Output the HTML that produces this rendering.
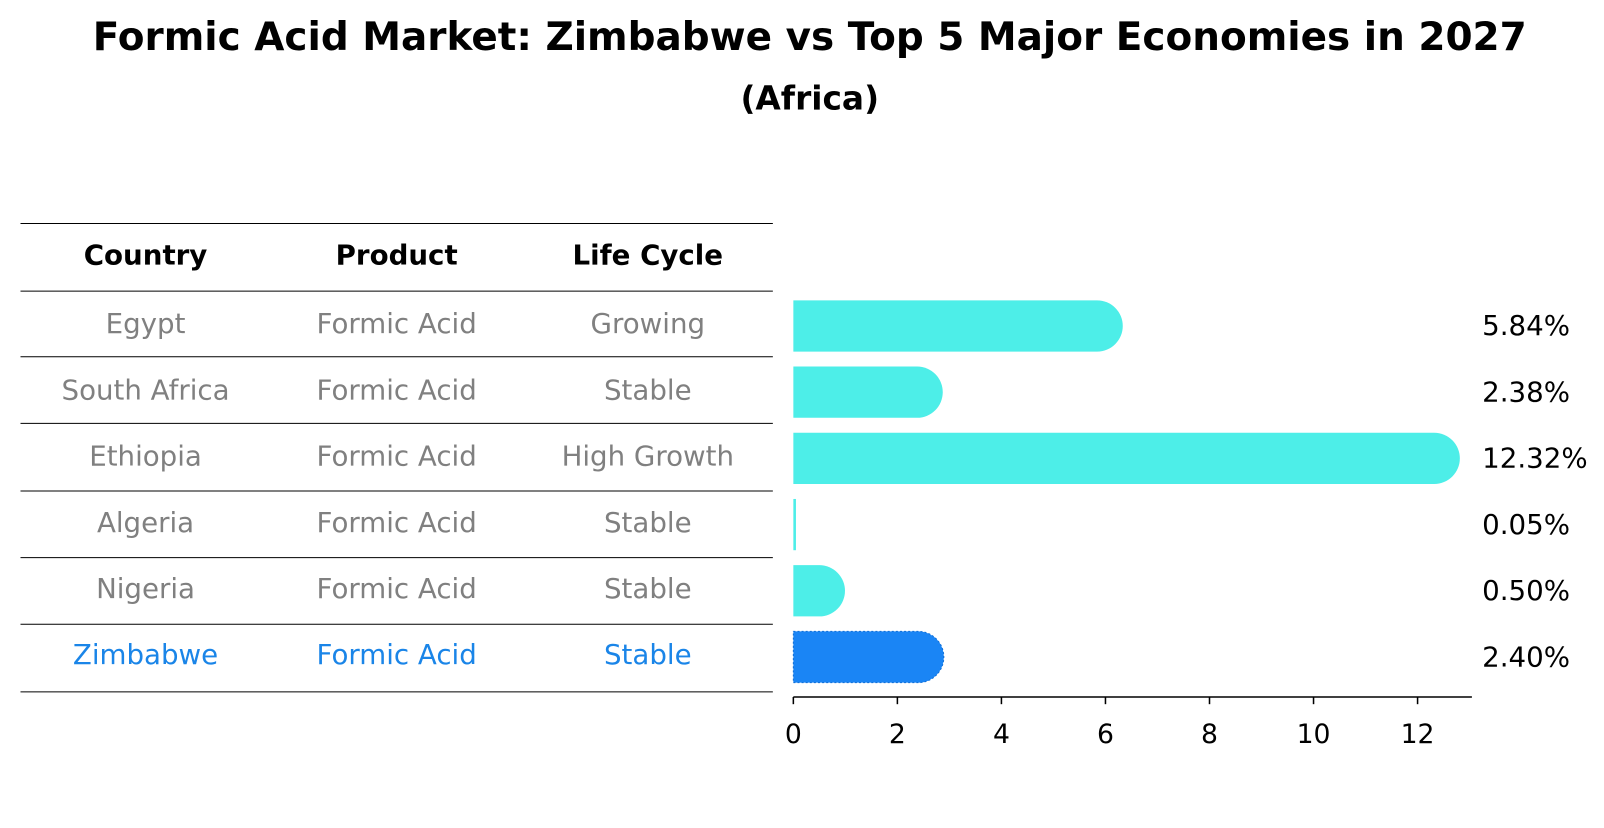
<!DOCTYPE html>
<html><head><meta charset="utf-8"><style>
body{margin:0;background:#fff;font-family:"Liberation Sans","DejaVu Sans",sans-serif;}
svg text{font-family:"DejaVu Sans","Liberation Sans",sans-serif;}
</style></head><body>
<svg width="1604" height="823" xmlns="http://www.w3.org/2000/svg" id="chart">
<g transform="scale(1.025)">
<text x="790" y="49" text-anchor="middle" font-size="38" font-weight="bold">Formic Acid Market: Zimbabwe vs Top 5 Major Economies in 2027</text>
<text x="790" y="107" text-anchor="middle" font-size="32" font-weight="bold">(Africa)</text>
<g id="table"></g>
<g id="bars"></g>
</g>
</svg>
<script>
const countries=["Egypt","South Africa","Ethiopia","Algeria","Nigeria","Zimbabwe"];
const products=["Formic Acid","Formic Acid","Formic Acid","Formic Acid","Formic Acid","Formic Acid"];
const lifecycles=["Growing","Stable","High Growth","Stable","Stable","Stable"];
const values=[5.84,2.38,12.32,0.05,0.50,2.40];
const ticks=[0,2,4,6,8,10,12];
const NS="http://www.w3.org/2000/svg";
function mk(tag,attrs,parent,txt){const e=document.createElementNS(NS,tag);for(const k in attrs)e.setAttribute(k,attrs[k]);if(txt!==undefined)e.textContent=txt;parent.appendChild(e);return e;}
const x=v=>774+v*50.75;
const rowY=i=>316+i*64.6;
const tbl=document.getElementById('table');
const lines=[218,284,348,413,479,544,609,675];
lines.forEach(ly=>{const l=mk('line',{x1:20,x2:754,y1:ly,y2:ly,stroke:'#000','stroke-width':1},tbl);

});
const cols=[142,387,632];
["Country","Product","Life Cycle"].forEach((h,j)=>{const t=mk('text',{x:cols[j],y:258,'text-anchor':'middle','font-size':'27','font-weight':'bold'},tbl,h);

});
countries.forEach((c,i)=>{const col=c==="Zimbabwe"?"#1a85e8":"#808080";
[c,products[i],lifecycles[i]].forEach((s,j)=>{const t=mk('text',{x:cols[j],y:rowY(i)+9,'text-anchor':'middle','font-size':'27',fill:col},tbl,s);

});});
const bg=document.getElementById('bars');
const h=50,r=25;
values.forEach((v,i)=>{const cy=rowY(i)+2;const x0=x(0),x1=x(v);const top=cy-h/2;
const isZ=countries[i]==="Zimbabwe";const fill=isZ?"#1a85f5":"#4deee8";
let d;
if(x1-x0<r/2){d=`M${x0},${top}H${x1}V${top+h}H${x0}Z`;}
else d=`M${x0},${top}H${x1}A${r},${r} 0 0 1 ${x1},${top+h}H${x0}Z`;
const p=mk('path',{d:d,fill:fill},bg);
if(isZ){p.setAttribute('stroke','#1170d8');p.setAttribute('stroke-dasharray','2 2');}


const t=mk('text',{x:1446,y:cy+9,'font-size':'27'},bg,v.toFixed(2)+'%');

});
const ax=mk('line',{x1:774,x2:1436,y1:680,y2:680,stroke:'#000','stroke-width':1.5},bg);


ticks.forEach(tv=>{const tl=mk('line',{x1:x(tv),x2:x(tv),y1:680,y2:687,stroke:'#000','stroke-width':1.5},bg);


const t=mk('text',{x:x(tv),y:725,'text-anchor':'middle','font-size':'26'},bg,String(tv));

});
</script>
</body></html>
